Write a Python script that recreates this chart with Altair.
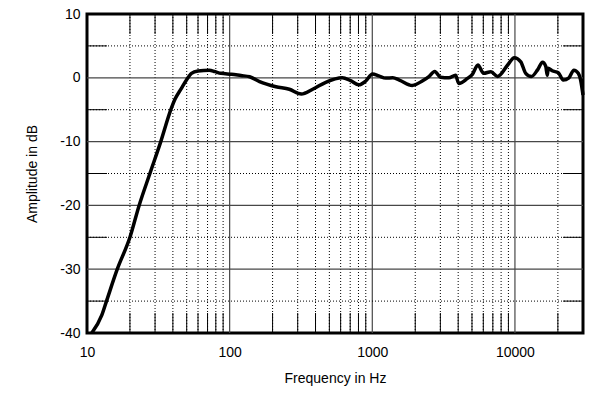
import altair as alt
import pandas as pd

# Frequency response (Hz, dB)
freq = [10.8, 12.7, 13.7, 16.3, 20, 23.2, 27.6, 32.9, 38.7, 41.5, 45.9, 49.8, 54, 60,
        72, 79, 87, 103, 120, 138, 162, 211, 262, 318, 382, 472, 616, 704, 805, 900,
        1003, 1110, 1243, 1392, 1547, 1906, 2240, 2494, 2738, 3003, 3447, 3834, 4040,
        4645, 5030, 5500, 6035, 6790, 7550, 8890, 9890, 10990, 11900, 13040, 14410,
        15620, 16450, 16860, 17100, 18240, 20140, 21800, 23900, 25900, 27800, 28900, 30000]
db = [-40, -37.2, -35, -30, -25, -20, -15, -10, -5, -3.3, -1.65, -0.35, 0.7, 1.07,
      1.2, 0.96, 0.7, 0.55, 0.35, 0.17, -0.6, -1.4, -1.8, -2.55, -1.8, -0.7, 0.0, -0.45, -1.1, -0.5,
      0.6, 0.3, -0.05, 0.0, -0.35, -1.2, -0.5, 0.2, 1.0, 0.1, 0.0, 0.4, -0.9,
      -0.1, 0.55, 2.0, 0.7, 0.95, 0.2, 2.0, 3.15, 2.5, 0.7, 0.2, 1.25,
      2.45, 1.8, 0.4, 1.5, 1.1, 0.8, -0.35, 0.0, 1.2, 0.7, -0.4, -2.7]

x_labels = [10, 100, 1000, 10000]
y_labels = [-40, -30, -20, -10, 0, 10]
major_x = [100, 1000, 10000]
minor_x = [20, 30, 40, 50, 60, 70, 80, 90, 200, 300, 400, 500, 600, 700, 800, 900,
           2000, 3000, 4000, 5000, 6000, 7000, 8000, 9000, 20000]
major_y = [-30, -20, -10, 0]
minor_y = [-35, -25, -15, -5, 5]

W, H = 496, 319
TICK = 20
GRID = "#474747"
FONT = "Liberation Sans"

xscale = alt.Scale(type="log", domain=[10, 30000], nice=False)
yscale = alt.Scale(domain=[-40, 10], nice=False)

xaxis = alt.Axis(values=x_labels, labelExpr="datum.value", title="Frequency in Hz", grid=False,
                 ticks=False, domain=False, labelFontSize=14, labelPadding=12,
                 titleFontSize=14, titleFontWeight="normal", titlePadding=12,
                 labelFont=FONT, titleFont=FONT, labelColor="black", titleColor="black",
                 labelFlush=False, labelOverlap=False)
yaxis = alt.Axis(values=y_labels, labelExpr="datum.value", title="Amplitude in dB", grid=False,
                 ticks=False, domain=False, labelFontSize=14, labelPadding=7,
                 titleFontSize=14, titleFontWeight="normal", titlePadding=20,
                 labelFont=FONT, titleFont=FONT, labelColor="black", titleColor="black",
                 labelFlush=False, labelOverlap=False)

curve_df = pd.DataFrame({"f": freq, "db": db})
mx_df = pd.DataFrame({"f": minor_x})
Mx_df = pd.DataFrame({"f": major_x})
my_df = pd.DataFrame({"db": minor_y})
My_df = pd.DataFrame({"db": major_y})

X = lambda: alt.X("f:Q", scale=xscale, axis=xaxis)
Y = lambda: alt.Y("db:Q", scale=yscale, axis=yaxis)

minor_v = alt.Chart(mx_df).mark_rule(color="black", strokeDash=[1, 2], strokeWidth=1).encode(x=X())
top_t = alt.Chart(mx_df).mark_rule(color="black", strokeWidth=1).encode(
    x=X(), y=alt.value(0), y2=alt.value(TICK))
bot_t = alt.Chart(mx_df).mark_rule(color="black", strokeWidth=1).encode(
    x=X(), y=alt.value(H - TICK), y2=alt.value(H))
major_v = alt.Chart(Mx_df).mark_rule(color=GRID, strokeWidth=1.2).encode(x=X())

minor_h = alt.Chart(my_df).mark_rule(color="black", strokeDash=[1, 2], strokeWidth=1).encode(y=Y())
left_t = alt.Chart(my_df).mark_rule(color="black", strokeWidth=1).encode(
    y=Y(), x=alt.value(0), x2=alt.value(TICK))
right_t = alt.Chart(my_df).mark_rule(color="black", strokeWidth=1).encode(
    y=Y(), x=alt.value(W - TICK), x2=alt.value(W))
major_h = alt.Chart(My_df).mark_rule(color=GRID, strokeWidth=1.2).encode(y=Y())

curve = alt.Chart(curve_df).mark_line(color="black", strokeWidth=3.5, strokeJoin="round",
                                      interpolate="monotone").encode(
    x=X(), y=Y(), order="f:Q",
)

chart = alt.layer(minor_v, top_t, bot_t, major_v, minor_h, left_t, right_t, major_h, curve).properties(
    width=W, height=H,
    autosize=alt.AutoSizeParams(type="none"),
    padding={"left": 79, "top": 6, "right": 9, "bottom": 54},
    background="white",
).configure_view(stroke="black", strokeWidth=3)

chart.save("out.html", embed_options={"renderer": "svg", "actions": False})
